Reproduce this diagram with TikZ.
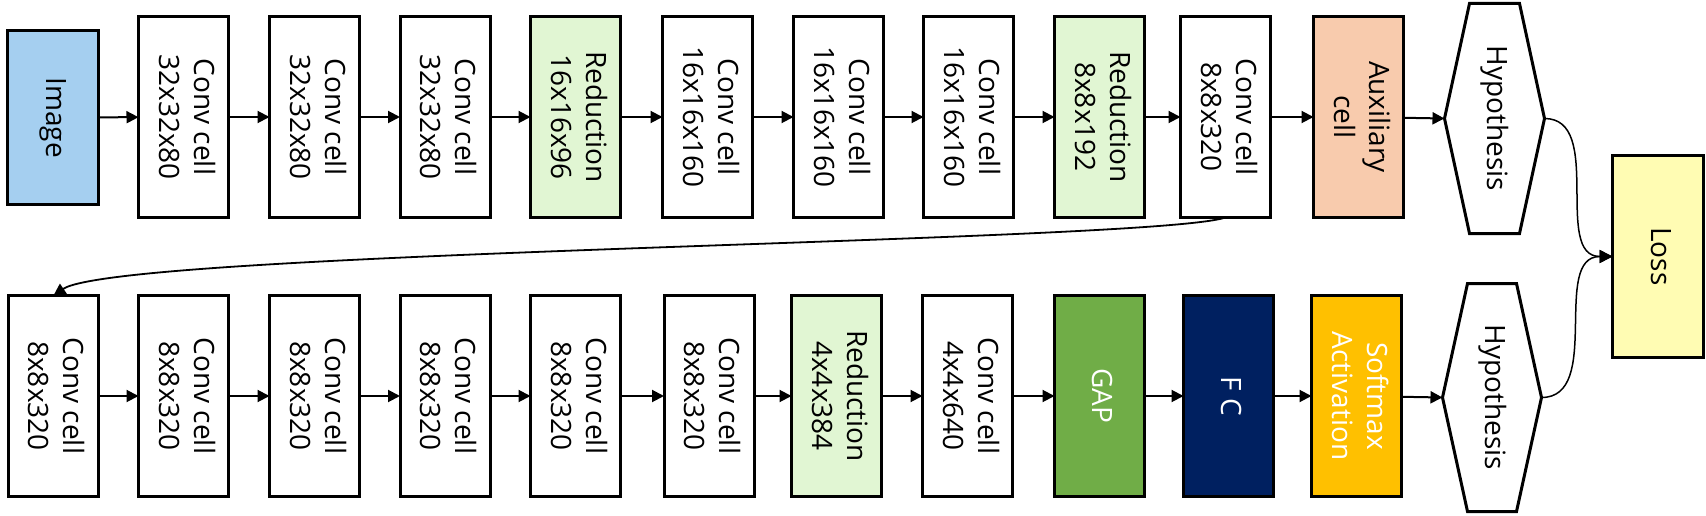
\documentclass[tikz,border=0pt]{standalone}
\usepackage{fontspec}
\setmainfont{Open Sans}
\usepackage{graphicx}
\usetikzlibrary{arrows.meta,calc}
\definecolor{imgblue}{HTML}{A5CFF0}
\definecolor{redgreen}{HTML}{E1F6D3}
\definecolor{auxpeach}{HTML}{F8CBAD}
\definecolor{lossyellow}{HTML}{FFFCB3}
\definecolor{gapgreen}{HTML}{70AD47}
\definecolor{fcblue}{HTML}{002060}
\definecolor{softgold}{HTML}{FFC000}
\newcommand\vtext[1]{\rotatebox{-90}{\begin{tabular}{@{}c@{}}#1\end{tabular}}}
\tikzset{
  box/.style={draw,line width=3pt,inner sep=0pt,outer sep=0pt,
    minimum width=90pt,minimum height=201pt,fill=white,
    font=\fontsize{28}{35}\selectfont},
  hyp/.style={inner sep=0pt,outer sep=0pt,font=\fontsize{28}{35}\selectfont},
  hexline/.style={line width=3pt},
  conn/.style={line width=2pt,-{Triangle[length=12pt,width=12pt]}},
  longconn/.style={line width=1.8pt,-{Triangle[length=12pt,width=12pt]}},
  thinconn/.style={line width=1.5pt,-{Triangle[length=13pt,width=13pt]}}
}
\begin{document}
\begin{tikzpicture}[x=1pt,y=-1pt]
\useasboundingbox (0,0) rectangle (1706,516);
% top row
\node[box,fill=imgblue,minimum height=174pt,minimum width=91pt] (img) at (53,117.5) {\vtext{Image}};
\node[box] (t1) at (183.5,117) {\vtext{Conv cell\\32x32x80}};
\node[box] (t2) at (314.5,117) {\vtext{Conv cell\\32x32x80}};
\node[box] (t3) at (445,117) {\vtext{Conv cell\\32x32x80}};
\node[box,fill=redgreen] (t4) at (575.5,117) {\vtext{Reduction\\16x16x96}};
\node[box] (t5) at (707.5,117) {\vtext{Conv cell\\16x16x160}};
\node[box] (t6) at (838.5,117) {\vtext{Conv cell\\16x16x160}};
\node[box] (t7) at (968.5,117) {\vtext{Conv cell\\16x16x160}};
\node[box,fill=redgreen] (t8) at (1099.5,117) {\vtext{Reduction\\8x8x192}};
\node[box] (t9) at (1225.5,117) {\vtext{Conv cell\\8x8x320}};
\node[box,fill=auxpeach] (aux) at (1358.5,117) {\vtext{Auxiliary\\cell}};
\node[hyp,minimum width=100pt,minimum height=230pt] (h1) at (1494.5,118.5) {\vtext{Hypothesis}};
\draw[hexline] (h1.west) -- ($(h1.north west)+(25,0)$) -- ($(h1.north east)+(-25,0)$) -- (h1.east) -- ($(h1.south east)+(-25,0)$) -- ($(h1.south west)+(25,0)$) -- cycle;
% loss
\node[box,fill=lossyellow,minimum width=91pt,minimum height=202pt] (loss) at (1658,256.5) {\vtext{Loss}};
% bottom row
\node[box] (b1) at (53.5,396) {\vtext{Conv cell\\8x8x320}};
\node[box] (b2) at (183.5,396) {\vtext{Conv cell\\8x8x320}};
\node[box] (b3) at (314.5,396) {\vtext{Conv cell\\8x8x320}};
\node[box] (b4) at (445,396) {\vtext{Conv cell\\8x8x320}};
\node[box] (b5) at (575.5,396) {\vtext{Conv cell\\8x8x320}};
\node[box] (b6) at (709,396) {\vtext{Conv cell\\8x8x320}};
\node[box,fill=redgreen] (b7) at (836.5,396) {\vtext{Reduction\\4x4x384}};
\node[box] (b8) at (967.5,396) {\vtext{Conv cell\\4x4x640}};
\node[box,fill=gapgreen,text=white] (gap) at (1099.5,396) {\vtext{GAP}};
\node[box,fill=fcblue,text=white] (fc) at (1228.5,396) {\vtext{F C}};
\node[box,fill=softgold,text=white] (soft) at (1356.5,396) {\vtext{Softmax\\Activation}};
\node[hyp,minimum width=99pt,minimum height=228pt] (h2) at (1492,397.5) {\vtext{Hypothesis}};
\draw[hexline] (h2.west) -- ($(h2.north west)+(25,0)$) -- ($(h2.north east)+(-25,0)$) -- (h2.east) -- ($(h2.south east)+(-25,0)$) -- ($(h2.south west)+(25,0)$) -- cycle;
% connectors top
\draw[conn] (img) -- (t1);
\draw[conn] (t1) -- (t2);
\draw[conn] (t2) -- (t3);
\draw[conn] (t3) -- (t4);
\draw[conn] (t4) -- (t5);
\draw[conn] (t5) -- (t6);
\draw[conn] (t6) -- (t7);
\draw[conn] (t7) -- (t8);
\draw[conn] (t8) -- (t9);
\draw[conn] (t9) -- (aux);
\draw[conn] (aux) -- (h1.west);
% connectors bottom
\draw[conn] (b1) -- (b2);
\draw[conn] (b2) -- (b3);
\draw[conn] (b3) -- (b4);
\draw[conn] (b4) -- (b5);
\draw[conn] (b5) -- (b6);
\draw[conn] (b6) -- (b7);
\draw[conn] (b7) -- (b8);
\draw[conn] (b8) -- (gap);
\draw[conn] (gap) -- (fc);
\draw[conn] (fc) -- (soft);
\draw[conn] (soft) -- (h2.west);
% long wrap connector
\draw[longconn] (t9.south) .. controls +(-75,25) and +(66,-45) .. (b1.north);
% to loss
\draw[thinconn] (h1.east) to[out=0,in=180] (loss.west);
\draw[thinconn] (h2.east) to[out=0,in=180] (loss.west);
\end{tikzpicture}
\end{document}
